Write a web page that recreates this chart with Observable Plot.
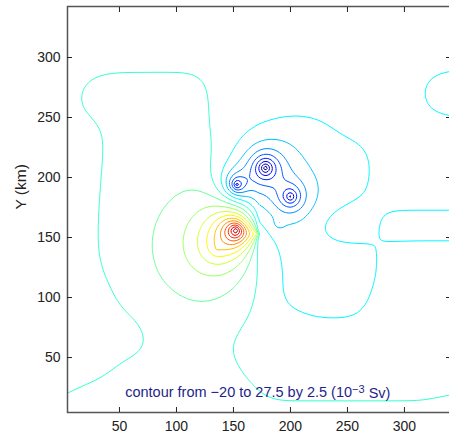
<!DOCTYPE html>
<html>
<head>
<meta charset="utf-8">
<script src="https://cdn.jsdelivr.net/npm/d3@7"></script>
<script src="https://cdn.jsdelivr.net/npm/@observablehq/plot@0.6"></script>
<style>
  html, body { margin: 0; padding: 0; background: #fff; }
  #chart svg { display: block; }
</style>
</head>
<body>
<div id="chart"></div>
<script>
// Axes (km)
const xTicks = [50, 100, 150, 200, 250, 300];
const yTicks = [50, 100, 150, 200, 250, 300];
const xDomain = [4.4, 340.4];
const yDomain = [4.2, 342.5];
const yLabel = "Y (km)";

// Contour levels (10^-3 Sv)
const levelFrom = -20, levelTo = 27.5, levelBy = 2.5;
const captionMain = "contour from \u221220 to 27.5 by 2.5 (10";
const captionExp = "\u22123";
const captionUnit = " Sv)";

// Eddies: centre (km), amplitude (10^-3 Sv), e-folding scale (km);
// eddies flagged in eddyWedge are cut off east of the convergence point
const eddyX = [152, 135, 178, 153, 200, 190];
const eddyY = [156, 140, 208, 194, 184, 162];
const eddyAmp = [24, 8, -18, -16, -14, -4];
const eddyScale = [14, 35, 11, 9, 10, 3];
const eddyWedge = [1, 1, 0, 0, 0, 0];
const sourceX = 172, sourceY = 153, sourceSharpness = 0.85;

// Background streamfunction on a 20 km grid, rows from north (340 km) to south (0 km)
const gridStep = 20;
const gridRows = [
  "nnnnnnnnnnnnnnnnnn",
  "nnnnnnnnnnnnnnnnnn",
  "nnnnnnnnnnnnnnnnnn",
  "npPPPPPnnnnnnnnnMN",
  "nPPPPPPnnnnnnnnnMN",
  "nnpPPPPnnmNNmnnnnn",
  "nnpPPPPzmNNNNNnnnn",
  "nnpPPPPnnNNNNNnnnn",
  "nnpPPPPPnNNNNmkkkk",
  "nnpPPPPPPmNmppNNNN",
  "nnpPPPPPPnNNNNkkkk",
  "nnzPPPPPPzNNNNmnnn",
  "nnnPPPPPPnNNNNnnnn",
  "nnnnpPPPznnmmmnnnn",
  "nnnnzPPonnnnnnnnnn",
  "nnzPPPPPznnnnnnnnn",
  "zPPPPPPPPzzzzzzzzp",
  "PPPPPPPPPPPPPPPPPP"
];
const gridCode = {P: 0.8, p: 0.2, o: 0, z: -0.3, n: -1.2, k: -1.8, m: -2.2, M: -3.0, N: -3.8};

const grid = gridRows.map((r) => Array.from(r, (c) => gridCode[c]));
const nRows = grid.length, nCols = grid[0].length;

// Smooth background: normalised Gaussian weighting of nearby grid nodes
function background(x, y) {
  const s = 14;
  const j0 = Math.round(x / gridStep), i0 = nRows - 1 - Math.round(y / gridStep);
  let num = 0, den = 0;
  for (let i = i0 - 4; i <= i0 + 4; i++) {
    if (i < 0 || i >= nRows) continue;
    const gy = (nRows - 1 - i) * gridStep;
    for (let j = j0 - 4; j <= j0 + 4; j++) {
      if (j < 0 || j >= nCols) continue;
      const gx = j * gridStep;
      const w = Math.exp(-((x - gx) ** 2 + (y - gy) ** 2) / (2 * s * s));
      num += w * grid[i][j];
      den += w;
    }
  }
  return num / den;
}

// Fraction of an eddy kept on the west side of the convergence point
function wedge(x, y) {
  const dx = sourceX - x, dy = y - sourceY;
  if (dx <= 0) return 0;
  return Math.pow(dx / Math.hypot(dx, dy), sourceSharpness);
}

function streamfunction(x, y) {
  let v = background(x, y);
  const w = wedge(x, y);
  for (let k = 0; k < eddyX.length; k++) {
    const r = Math.hypot(x - eddyX[k], y - eddyY[k]);
    let e = eddyAmp[k] * Math.exp(-r / eddyScale[k]);
    if (eddyWedge[k]) e *= w;
    v += e;
  }
  return v;
}

const levels = d3.range(levelFrom, levelTo + levelBy / 2, levelBy);

// MATLAB "jet" colour map as piecewise-linear stops over the level range
const jetT = [0, 0.125, 0.375, 0.625, 0.875, 1];
const jetColors = ["#000080", "#0000ff", "#00ffff", "#ffff00", "#ff0000", "#800000"];
const jetDomain = jetT.map((t) => levelFrom + t * (levelTo - levelFrom));

const caption = captionMain + captionExp + captionUnit;
const tickFont = 14;
// sample a little beyond the axes so the contour rings' edges fall outside the clip
const pad = 4;

const chart = Plot.plot({
  width: 449,
  height: 439,
  marginLeft: 67,
  marginRight: -1,
  marginTop: 6,
  marginBottom: 27,
  x: {domain: xDomain},
  y: {domain: yDomain},
  color: {type: "linear", domain: jetDomain, range: jetColors, clamp: true},
  style: {fontFamily: "'Liberation Sans', Arial, sans-serif", fontSize: "14px", background: "#fff", color: "#222"},
  marks: [
    Plot.contour({
      x1: xDomain[0] - pad, x2: xDomain[1] + pad, y1: yDomain[0] - pad, y2: yDomain[1] + pad,
      value: streamfunction,
      thresholds: levels,
      stroke: "value",
      fill: "none",
      strokeWidth: 1,
      clip: true
    }),
    Plot.text([caption], {x: 55, y: 21, text: (d) => d, textAnchor: "start", fill: "#1f1f8a", fontSize: 14.5, className: "caption"}),
    Plot.frame({stroke: "#555", strokeWidth: 1.5}),
    Plot.axisX(xTicks, {anchor: "bottom", tickSize: 0, tickPadding: 9, label: null}),
    Plot.axisX(xTicks, {anchor: "bottom", tickSize: -5, fill: "none", label: null}),
    Plot.axisX(xTicks, {anchor: "top", tickSize: -5, fill: "none", label: null}),
    Plot.axisY(yTicks, {anchor: "left", tickSize: 0, tickPadding: 7, label: null}),
    Plot.axisY(yTicks, {anchor: "left", tickSize: -5, fill: "none", label: null}),
    Plot.axisY(yTicks, {anchor: "right", tickSize: -5, fill: "none", label: null}),
    Plot.text([yLabel], {frameAnchor: "left", dx: -46, rotate: -90, text: (d) => d, fontSize: 15.5, fill: "#222"})
  ]
});

// Tick label size
d3.select(chart).selectAll("g[aria-label$='tick label']")
  .attr("font-size", tickFont)
  .selectAll("text").attr("font-size", tickFont);

// Raise the exponent in the caption
d3.select(chart).selectAll("g.caption text").each(function () {
  const t = d3.select(this);
  t.text(null);
  t.append("tspan").text(captionMain);
  t.append("tspan").attr("dy", "-0.4em").attr("font-size", "11px").text(captionExp);
  t.append("tspan").attr("dy", "0.4em").text(captionUnit);
});

document.getElementById("chart").appendChild(chart);
</script>
</body>
</html>
